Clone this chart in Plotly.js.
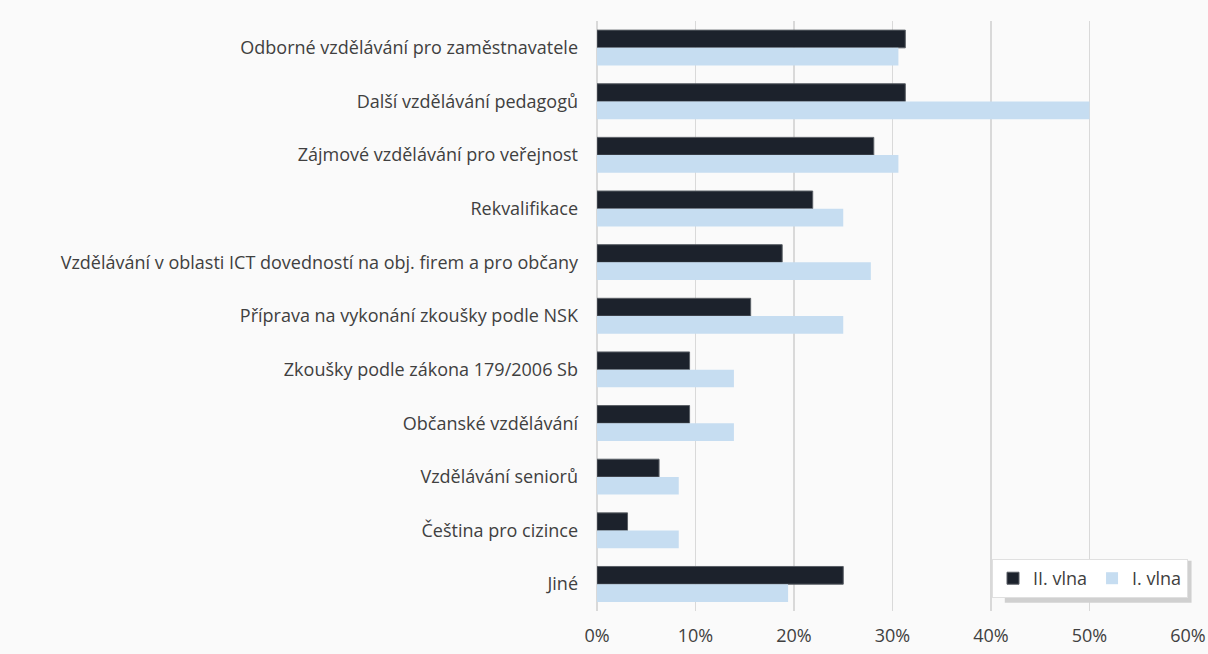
<!DOCTYPE html>
<html>
<head>
<meta charset="utf-8">
<script src="https://cdn.plot.ly/plotly-3.0.1.min.js"></script>
<style>
html,body{margin:0;padding:0;background:#fafafa;}
#chart{width:1208px;height:654px;}
</style>
</head>
<body>
<div id="chart"></div>
<script>
const categories = [
  "Odborné vzdělávání pro zaměstnavatele",
  "Další vzdělávání pedagogů",
  "Zájmové vzdělávání pro veřejnost",
  "Rekvalifikace",
  "Vzdělávání v oblasti ICT dovedností na obj. firem a pro občany",
  "Příprava na vykonání zkoušky podle NSK",
  "Zkoušky podle zákona 179/2006 Sb",
  "Občanské vzdělávání",
  "Vzdělávání seniorů",
  "Čeština pro cizince",
  "Jiné"
];
const vlna2 = [31.3, 31.3, 28.1, 21.9, 18.8, 15.6, 9.4, 9.4, 6.3, 3.1, 25.0];
const vlna1 = [30.6, 50.0, 30.6, 25.0, 27.8, 25.0, 13.9, 13.9, 8.3, 8.3, 19.4];
const seriesNames = ["II. vlna", "I. vlna"];
const tickVals = [0, 10, 20, 30, 40, 50, 60];
const tickText = ["0%", "10%", "20%", "30%", "40%", "50%", "60%"];

const font = "'Open Sans', 'Noto Sans', sans-serif";

const traces = [
  {
    type: 'bar', orientation: 'h', name: seriesNames[0],
    y: categories, x: vlna2,
    marker: {color: '#1c222c', line: {color: '#5a5f66', width: 1}},
    hoverinfo: 'x+y'
  },
  {
    type: 'bar', orientation: 'h', name: seriesNames[1],
    y: categories, x: vlna1,
    marker: {color: '#c6ddf1', line: {width: 0}},
    hoverinfo: 'x+y'
  }
];

const layout = {
  width: 1208, height: 654,
  margin: {l: 597, r: 20, t: 21, b: 43},
  paper_bgcolor: '#fafafa',
  plot_bgcolor: '#fafafa',
  font: {family: font, size: 18, color: '#404040'},
  barmode: 'group',
  bargap: 0.34,
  bargroupgap: 0,
  xaxis: {
    range: [0, 60],
    tickmode: 'array',
    tickvals: tickVals,
    ticktext: tickText,
    showgrid: true,
    gridcolor: '#d9d9d9',
    gridwidth: 1.5,
    zeroline: true,
    zerolinecolor: '#d9d9d9',
    zerolinewidth: 1.5,
    showline: false,
    ticks: '',
    ticklabelstandoff: 12,
    tickfont: {size: 18, color: '#404040'},
    fixedrange: true
  },
  yaxis: {
    autorange: 'reversed',
    showgrid: false,
    zeroline: false,
    showline: false,
    ticks: '',
    ticklabelstandoff: 18,
    tickfont: {size: 18, color: '#404040'},
    fixedrange: true
  },
  shapes: [
    {type: 'rect', xref: 'paper', yref: 'paper', x0: 0.69, x1: 1.006, y0: 0.014, y1: 0.085,
     fillcolor: '#d0d0d0', line: {width: 0}, layer: 'above'}
  ],
  showlegend: true,
  legend: {
    orientation: 'h',
    x: 1, xanchor: 'right',
    y: 0.022, yanchor: 'bottom',
    bgcolor: '#ffffff',
    bordercolor: '#e0e0e0',
    borderwidth: 1,
    font: {size: 18, color: '#404040'},
    traceorder: 'normal',
    itemwidth: 30
  }
};

Plotly.newPlot('chart', traces, layout, {displayModeBar: false, staticPlot: true});
</script>
</body>
</html>
